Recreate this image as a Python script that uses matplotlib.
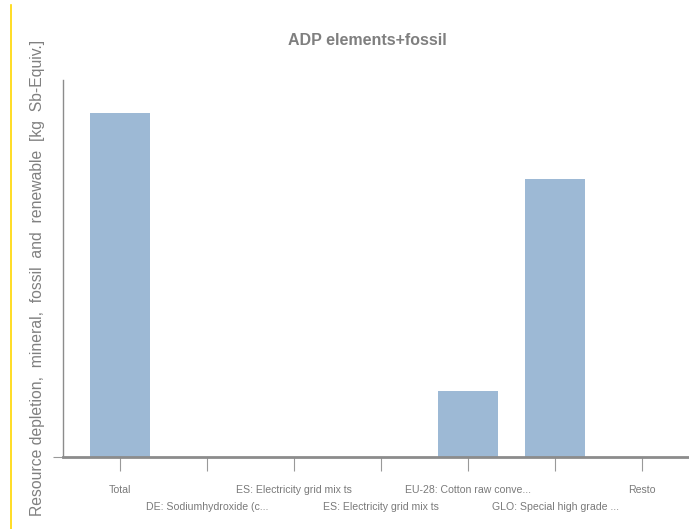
import numpy as np
import matplotlib
matplotlib.use('Agg')
import matplotlib.pyplot as plt
from matplotlib.lines import Line2D

categories = ['Total', 'DE: Sodiumhydroxide (c...', 'ES: Electricity grid mix ts',
              'ES: Electricity grid mix ts', 'EU-28: Cotton raw conve...',
              'GLO: Special high grade ...', 'Resto']
values = [5.2, 0.0, 0.0, 0.0, 1.0, 4.2, 0.0]

title = 'ADP elements+fossil'
ylabel = 'Resource depletion,  mineral,  fossil  and  renewable  [kg  Sb-Equiv.]'

plt.rcParams['font.family'] = ['Liberation Sans', 'DejaVu Sans']

fig = plt.figure(figsize=(6.89, 5.29), dpi=100)
ax = fig.add_axes([63/689, 72/529, 1 - 63/689, 377/529])

x = np.arange(len(categories))
ax.bar(x, values, width=0.68, color='#9db9d5', zorder=2)
ax.set_xlim(-0.655, 6.54)
ax.set_ylim(0, 5.70)

ax.set_xticks(x)
ax.set_xticklabels(categories, fontsize=7.6, color='#7a7a7a')
ax.tick_params(axis='x', length=10, width=0.8, color='#999999')
# alternate labels on two rows like the original
for i, t in enumerate(ax.xaxis.get_major_ticks()):
    t.set_pad(10.5 if i % 2 == 0 else 22.5)
ax.set_yticks([0])
ax.set_yticklabels([''])
ax.tick_params(axis='y', length=7, width=0.8, color='#999999')

for s in ['top', 'right']:
    ax.spines[s].set_visible(False)
ax.spines['left'].set_color('#8c8c8c')
ax.spines['left'].set_linewidth(1.0)
ax.spines['bottom'].set_color('#8c8c8c')
ax.spines['bottom'].set_linewidth(2.0)

fig.text(367/689, 1 - 40/529, title, ha='center', va='center', fontsize=11.5,
         fontweight='bold', color='#7f7f7f')
fig.text(38/689, 1 - 278/529, ylabel, rotation=90, ha='center', va='center',
         fontsize=11.3, color='#808080')

fig.add_artist(Line2D([10.5/689, 10.5/689], [0, 1 - 5/529], color='#ffd700',
                      linewidth=1.2, transform=fig.transFigure))

fig.savefig('out.png', dpi=100)
